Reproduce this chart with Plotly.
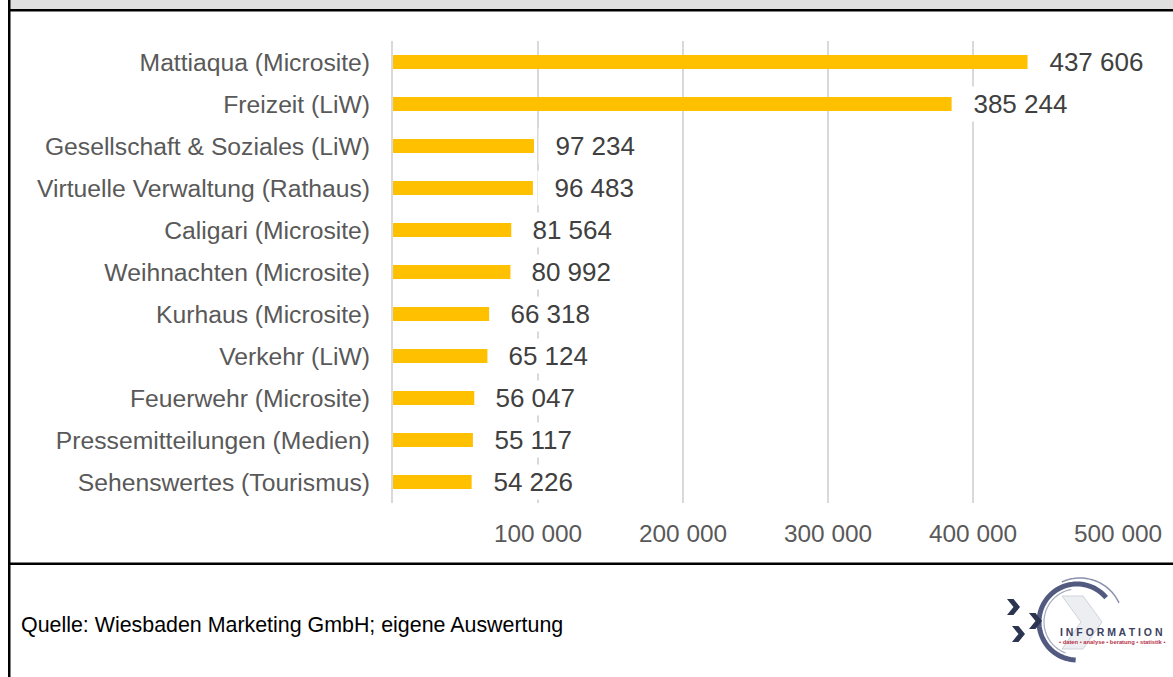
import numpy as np
import plotly.graph_objects as go

# Page views per section
categories = [
    "Mattiaqua (Microsite)",
    "Freizeit (LiW)",
    "Gesellschaft & Soziales (LiW)",
    "Virtuelle Verwaltung (Rathaus)",
    "Caligari (Microsite)",
    "Weihnachten (Microsite)",
    "Kurhaus (Microsite)",
    "Verkehr (LiW)",
    "Feuerwehr (Microsite)",
    "Pressemitteilungen (Medien)",
    "Sehenswertes (Tourismus)",
]
values = [437606, 385244, 97234, 96483, 81564, 80992, 66318, 65124, 56047, 55117, 54226]
tick_values = [100000, 200000, 300000, 400000, 500000]
source_text = "Quelle: Wiesbaden Marketing GmbH; eigene Auswertung"

FONT = "Liberation Sans, Arial, sans-serif"
W, H = 1173, 677
ML, MR, MT, MB = 393, 55, 41, 174
PW, PH = W - ML - MR, H - MT - MB


def px(x):
    return (x - ML) / PW


def py(y):
    return (H - MB - y) / PH


def fmt(v):
    return f"{v:,}".replace(",", " ")


fig = go.Figure()
fig.add_trace(go.Bar(
    x=values, y=categories, orientation="h",
    marker=dict(color="#FFC000", line=dict(width=0)),
    width=0.33, hoverinfo="skip",
))

annotations = []
for c, v in zip(categories, values):
    annotations.append(dict(
        x=v, y=c, xref="x", yref="y", xanchor="left", yanchor="middle",
        text="\u00a0\u00a0" + fmt(v), showarrow=False, xshift=4,
        bgcolor="white", borderpad=2,
        font=dict(family=FONT, size=26, color="#404040"),
    ))

# footer source line
annotations.append(dict(
    x=px(19), y=py(625), xref="paper", yref="paper", xanchor="left", yanchor="middle",
    text=source_text, showarrow=False,
    font=dict(family=FONT, size=21.4, color="#000000"),
))

# logo lettering
annotations.append(dict(
    x=px(1111), y=py(632), xref="paper", yref="paper", xanchor="center", yanchor="middle",
    text="<b>I N F O R M A T I O N</b>", showarrow=False,
    font=dict(family=FONT, size=10.5, color="#3c4160"),
))
annotations.append(dict(
    x=px(1112), y=py(642), xref="paper", yref="paper", xanchor="center", yanchor="middle",
    text="<b>• daten • analyse • beratung • statistik •</b>", showarrow=False,
    font=dict(family=FONT, size=5.8, color="#b5344a"),
))

shapes = []


def rect(x0, y0, x1, y1, color):
    shapes.append(dict(type="rect", xref="paper", yref="paper",
                       x0=px(x0), x1=px(x1), y0=py(y0), y1=py(y1),
                       fillcolor=color, line=dict(width=0), layer="above"))


def poly(points, color, width=0, fill=None):
    d = "M " + " L ".join(f"{px(x):.5f},{py(y):.5f}" for x, y in points) + " Z"
    shapes.append(dict(type="path", xref="paper", yref="paper", path=d,
                       fillcolor=fill if fill else color,
                       line=dict(width=width, color=color), layer="above"))


def arc(cx, cy, r, a0, a1, color, width):
    t = np.radians(np.linspace(a0, a1, 60))
    pts = [(cx + r * np.cos(a), cy - r * np.sin(a)) for a in t]
    d = "M " + " L ".join(f"{px(x):.5f},{py(y):.5f}" for x, y in pts)
    shapes.append(dict(type="path", xref="paper", yref="paper", path=d,
                       line=dict(width=width, color=color), layer="above"))


# page frame: header strip, rules and left border
rect(10, -5, W + 10, 9.5, "#e0e0e0")
rect(8, 9, W + 10, 11.5, "#000000")
rect(8, 562.5, W + 10, 565, "#000000")
rect(8, -5, 10.5, H + 5, "#000000")

# logo: pale arrow, ring and chevrons
poly([(1062, 596), (1083, 596), (1102, 622), (1083, 649), (1062, 649), (1081, 622)],
     "#d0d3dc", width=1, fill="#eceef2")
arc(1077, 622, 38, 40, 268, "#535a80", 5)
arc(1080, 621, 43, 25, 115, "#8a90ac", 1.5)
arc(1077, 622, 33, 100, 250, "#a4a9bf", 1.2)


def chevron(x, y, color, w=13, h=8, t=6.5):
    poly([(x, y - h), (x + t, y - h), (x + w, y), (x + t, y + h),
          (x, y + h), (x + w - t, y)], color)


chevron(1007, 607, "#2b3550")
chevron(1029, 621, "#2b3550")
chevron(1012, 634, "#2b3550")

fig.update_layout(
    width=W, height=H,
    margin=dict(l=ML, r=MR, t=MT, b=MB, pad=0),
    paper_bgcolor="white", plot_bgcolor="white",
    separators=", ",
    showlegend=False,
    bargap=0.67,
    annotations=annotations,
    shapes=shapes,
    xaxis=dict(
        range=[0, 500000], tickvals=tick_values, tickformat=",d",
        showgrid=True, gridcolor="#d9d9d9", gridwidth=2,
        zeroline=False, showline=False, ticks="",
        ticklabelstandoff=14,
        tickfont=dict(family=FONT, size=24.4, color="#595959"),
        fixedrange=True,
    ),
    yaxis=dict(
        categoryorder="array", categoryarray=categories, autorange="reversed",
        showgrid=False, zeroline=False,
        showline=True, linecolor="#d9d9d9", linewidth=2,
        ticks="", ticklabelstandoff=16,
        tickfont=dict(family=FONT, size=24.7, color="#595959"),
        fixedrange=True,
    ),
)

fig.write_html("out.html", config={"displayModeBar": False})
